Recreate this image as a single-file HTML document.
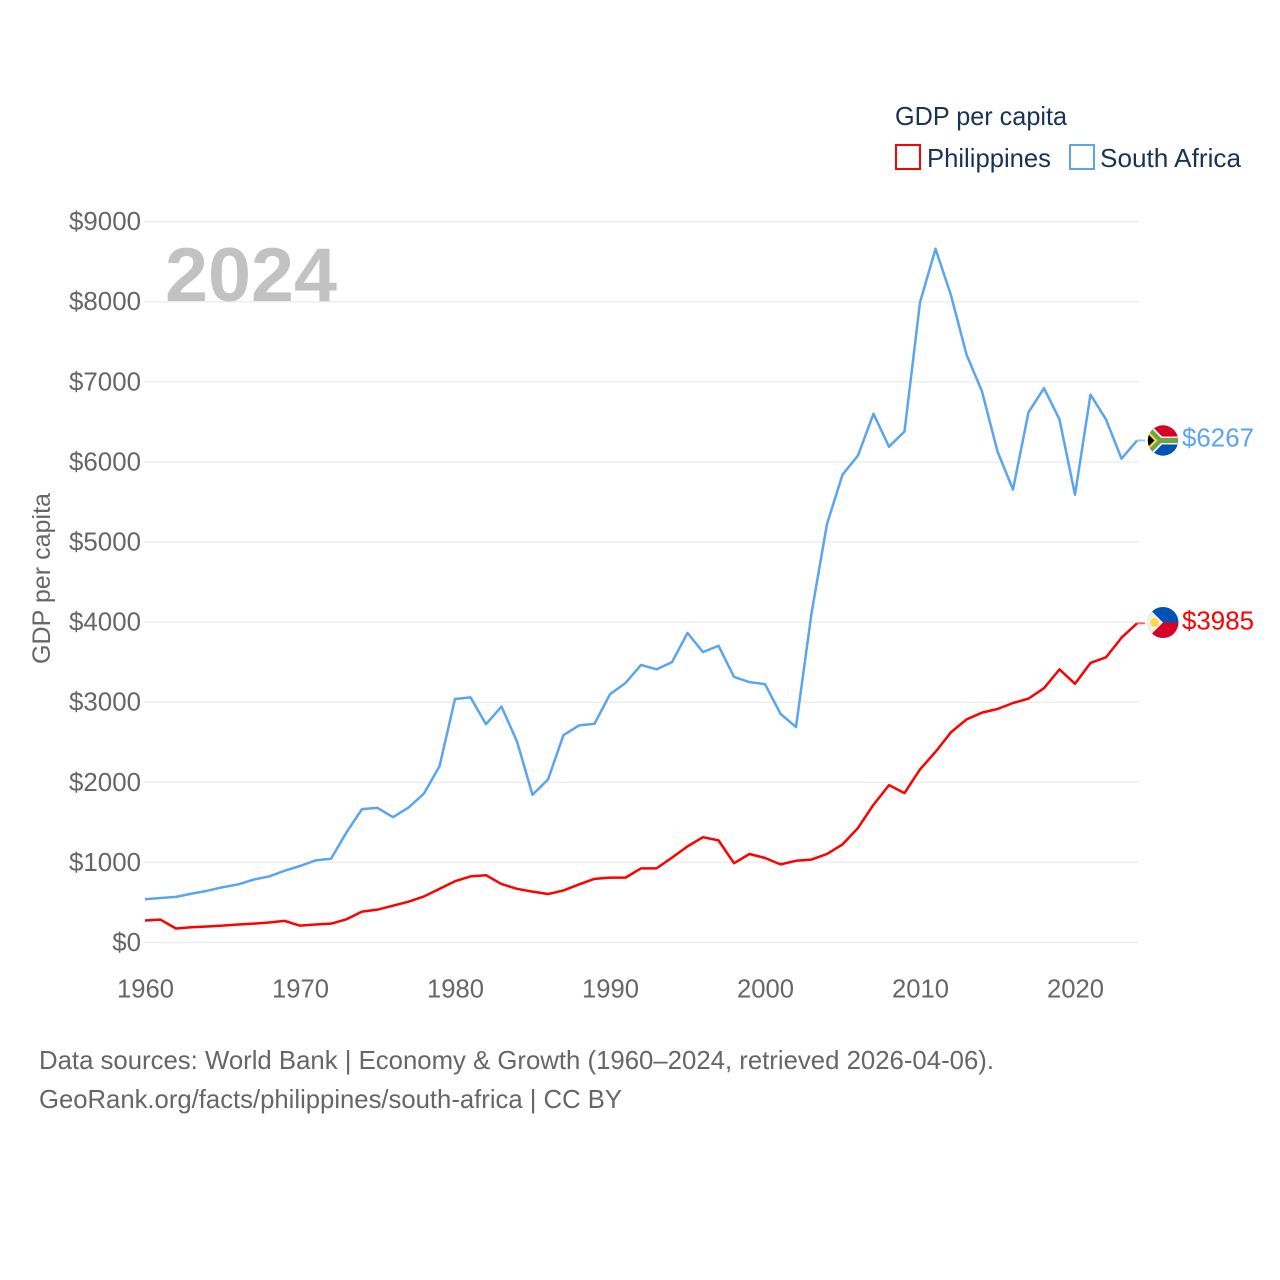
<!DOCTYPE html>
<html lang="en">
<head>
<meta charset="utf-8">
<title>GDP per capita: Philippines and South Africa</title>
<style>
html,body{margin:0;padding:0;background:#fff;}
svg{display:block;font-family:"Liberation Sans",sans-serif;}
</style>
</head>
<body>
<svg id="chart" xmlns="http://www.w3.org/2000/svg" width="1280" height="1280" viewBox="0 0 1280 1280">
  <defs>
    <clipPath id="clip-za"><circle cx="1163" cy="440.5" r="15.2"/></clipPath>
    <clipPath id="clip-ph"><circle cx="1163" cy="622.5" r="15.5"/></clipPath>
  </defs>
  <rect width="1280" height="1280" fill="#fff"/>
  <g id="grid"></g>
  <g id="y-ticks"></g>
  <g id="x-ticks"></g>
  <text x="165" y="301" font-size="76" font-weight="700" fill="#c2c2c2" textLength="172" lengthAdjust="spacingAndGlyphs">2024</text>
  <text transform="translate(50,664) rotate(-90)" font-size="25" fill="#666" textLength="171" lengthAdjust="spacingAndGlyphs">GDP per capita</text>
  <g id="series"></g>

  <g>
    <text x="895" y="125" font-size="26" fill="#1a3354" textLength="172" lengthAdjust="spacingAndGlyphs">GDP per capita</text>
    <rect x="896" y="145" width="24" height="24" fill="#fff" stroke="#ff0000" stroke-width="2"/>
    <text x="927" y="167" font-size="26" fill="#1a3354" textLength="124" lengthAdjust="spacingAndGlyphs">Philippines</text>
    <rect x="1070" y="145" width="24" height="24" fill="#fff" stroke="#5ba4ee" stroke-width="2"/>
    <text x="1100" y="167" font-size="26" fill="#1a3354" textLength="141" lengthAdjust="spacingAndGlyphs">South Africa</text>
  </g>

  <g clip-path="url(#clip-za)">
    <rect x="1147" y="425" width="32" height="16" fill="#d80027"/>
    <rect x="1147" y="440.5" width="32" height="16" fill="#0052b4"/>
    <path d="M1147 421 L1162 436.5 H1179 V444.5 H1162 L1147 460 Z" fill="#f0f0f0"/>
    <path d="M1147 424 L1161 438 H1179 V443 H1161 L1147 457 Z" fill="#6da544"/>
    <path d="M1147 430 L1157.5 440.5 L1147 451 Z" fill="#ffda44"/>
    <path d="M1147 433 L1154.5 440.5 L1147 448 Z" fill="#000"/>
  </g>
  <g clip-path="url(#clip-ph)">
    <rect x="1147" y="606" width="32" height="16.5" fill="#0052b4"/>
    <rect x="1147" y="622.5" width="32" height="17" fill="#d80027"/>
    <path d="M1145 604.5 L1163 622.5 L1145 640.5 Z" fill="#f0f0f0"/>
    <circle cx="1154.5" cy="622.5" r="4.4" fill="#ffda44"/>
  </g>
  <text x="1182" y="446.5" font-size="26" fill="#5ba4ee" textLength="72" lengthAdjust="spacingAndGlyphs">$6267</text>
  <text x="1182" y="629.5" font-size="26" fill="#ff0000" textLength="72" lengthAdjust="spacingAndGlyphs">$3985</text>

  <g>
    <text x="39" y="1069" font-size="26" fill="#666" textLength="955" lengthAdjust="spacingAndGlyphs">Data sources: World Bank | Economy &amp; Growth (1960–2024, retrieved 2026-04-06).</text>
    <text x="39" y="1108" font-size="26" fill="#666" textLength="583" lengthAdjust="spacingAndGlyphs">GeoRank.org/facts/philippines/south-africa | CC BY</text>
  </g>
</svg>
<script>
const startYear = 1960;
const xTickYears = [1960, 1970, 1980, 1990, 2000, 2010, 2020];
const yTickValues = [0, 1000, 2000, 3000, 4000, 5000, 6000, 7000, 8000, 9000];
const philippines = [275,285,175,190,200,210,225,235,250,270,210,225,235,290,385,410,460,510,575,670,765,825,840,730,670,635,605,650,725,795,810,810,925,925,1060,1200,1315,1275,990,1105,1055,975,1020,1035,1105,1225,1430,1720,1965,1865,2160,2380,2625,2785,2870,2915,2990,3045,3175,3410,3230,3490,3560,3805,3985];
const southAfrica = [540,555,570,610,645,690,725,785,825,895,955,1025,1045,1375,1665,1680,1565,1685,1860,2200,3040,3060,2725,2945,2510,1845,2035,2590,2710,2730,3100,3240,3465,3410,3500,3865,3625,3705,3315,3250,3225,2855,2690,4110,5225,5840,6080,6600,6190,6380,7990,8660,8080,7340,6880,6130,5655,6620,6920,6530,5590,6840,6530,6040,6267];

const NS = 'http://www.w3.org/2000/svg';
const xScale = year => 145 + (year - 1960) * 15.5;
const yScale = value => 942.5 - value * 0.0801;
const make = (tag, parent) => parent.appendChild(document.createElementNS(NS, tag));

const gridGroup = document.getElementById('grid');
const yGroup = document.getElementById('y-ticks');
yTickValues.forEach(v => {
  const y = yScale(v);
  const line = make('line', gridGroup);
  
  
  line.setAttribute('x1', 144);
  line.setAttribute('x2', 1138);
  line.setAttribute('y1', y);
  line.setAttribute('y2', y);
  line.setAttribute('stroke', '#eeeeee');
  line.setAttribute('stroke-width', 1.5);
  const label = make('text', yGroup);
  
  
  const str = '$' + v;
  label.textContent = str;
  label.setAttribute('x', 141);
  label.setAttribute('y', y + 8.5);
  label.setAttribute('text-anchor', 'end');
  label.setAttribute('font-size', 26);
  label.setAttribute('fill', '#666');
  label.setAttribute('textLength', str.length * 14.4);
  label.setAttribute('lengthAdjust', 'spacingAndGlyphs');
});

const xGroup = document.getElementById('x-ticks');
xTickYears.forEach(yr => {
  const label = make('text', xGroup);
  
  
  label.textContent = yr;
  label.setAttribute('x', xScale(yr) + 0.5);
  label.setAttribute('y', 997.5);
  label.setAttribute('text-anchor', 'middle');
  label.setAttribute('font-size', 26);
  label.setAttribute('fill', '#666');
  label.setAttribute('textLength', 57);
  label.setAttribute('lengthAdjust', 'spacingAndGlyphs');
});

const seriesGroup = document.getElementById('series');
function pathFor(values) {
  return values.map((v, i) => (i ? 'L' : 'M') + xScale(startYear + i).toFixed(2) + ' ' + yScale(v).toFixed(2)).join(' ');
}
function connector(values, colour) {
  const last = values[values.length - 1];
  const y = yScale(last);
  const x = xScale(startYear + values.length - 1);
  const line = make('line', seriesGroup);
  line.setAttribute('x1', x);
  line.setAttribute('x2', x + 8);
  line.setAttribute('y1', y);
  line.setAttribute('y2', y);
  line.setAttribute('stroke', colour);
  line.setAttribute('stroke-width', 2);
  line.setAttribute('opacity', 0.6);
  return line;
}

const southAfricaLine = make('path', seriesGroup);


southAfricaLine.setAttribute('d', pathFor(southAfrica));
southAfricaLine.setAttribute('fill', 'none');
southAfricaLine.setAttribute('stroke', '#5ba4ee');
southAfricaLine.setAttribute('stroke-width', 2.5);
southAfricaLine.setAttribute('stroke-linejoin', 'round');

const philippinesLine = make('path', seriesGroup);


philippinesLine.setAttribute('d', pathFor(philippines));
philippinesLine.setAttribute('fill', 'none');
philippinesLine.setAttribute('stroke', '#ff0000');
philippinesLine.setAttribute('stroke-width', 2.5);
philippinesLine.setAttribute('stroke-linejoin', 'round');

const connectorZa = connector(southAfrica, '#5ba4ee');


const connectorPh = connector(philippines, '#ff0000');


</script>
</body>
</html>
